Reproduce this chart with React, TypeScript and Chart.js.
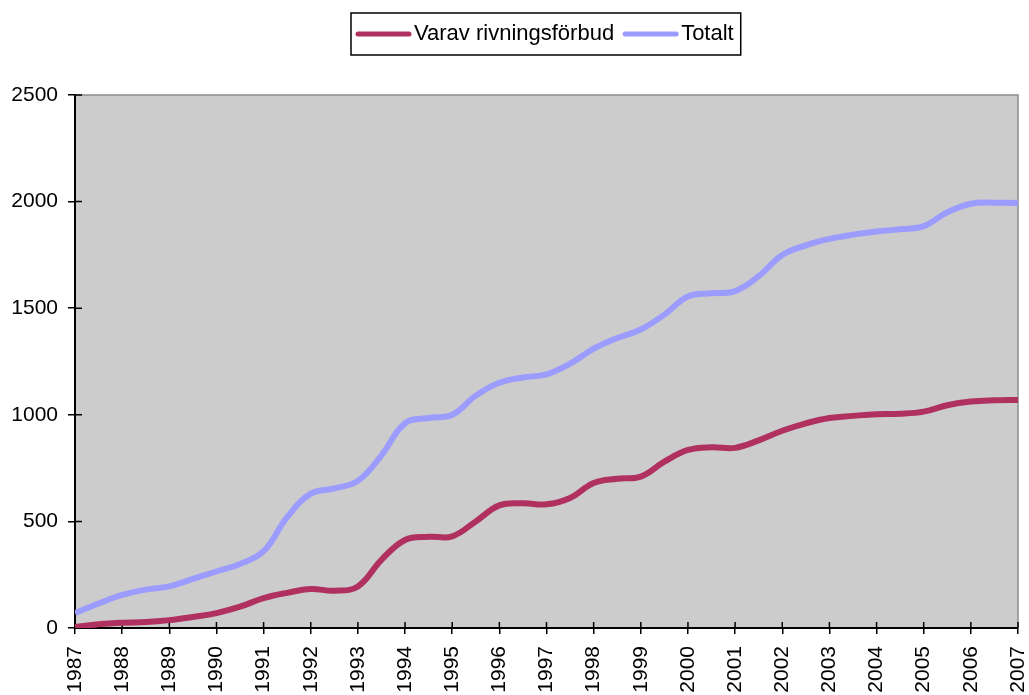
import React, { useEffect, useRef } from 'react';
import { Chart, registerables } from 'chart.js';

Chart.register(...registerables);

const TIMES = [
  1987, 1987.5, 1988, 1988.5, 1989, 1989.5, 1990, 1990.5, 1991, 1991.5,
  1992, 1992.5, 1993, 1993.5, 1994, 1994.5, 1995, 1995.5, 1996, 1996.5,
  1997, 1997.5, 1998, 1998.5, 1999, 1999.5, 2000, 2000.5, 2001, 2001.5,
  2002, 2002.5, 2003, 2003.5, 2004, 2004.5, 2005, 2005.5, 2006, 2006.5, 2007,
];

const YEAR_LABELS = [
  '1987', '1988', '1989', '1990', '1991', '1992', '1993', '1994', '1995', '1996',
  '1997', '1998', '1999', '2000', '2001', '2002', '2003', '2004', '2005', '2006', '2007',
];

const Y_TICKS = [0, 500, 1000, 1500, 2000, 2500];

const SERIES_NAMES = ['Varav rivningsförbud', 'Totalt'];
const SERIES_COLORS = ['#B0305F', '#9C9CFF'];

const RIVNING = [
  5, 18, 25, 28, 37, 52, 70, 100, 140, 165,
  183, 175, 195, 320, 413, 428, 430, 500, 575, 585,
  580, 610, 680, 700, 710, 780, 835, 848, 845, 880,
  925, 960, 985, 995, 1003, 1005, 1015, 1045, 1062, 1068, 1070,
];

const TOTALT = [
  70, 115, 155, 180, 195, 230, 265, 300, 360, 520,
  630, 655, 690, 810, 960, 985, 1000, 1090, 1150, 1175,
  1190, 1240, 1310, 1360, 1400, 1470, 1555, 1570, 1580, 1650,
  1750, 1795, 1825, 1845, 1860, 1870, 1885, 1950, 1990, 1995, 1993,
];

const FONT_FAMILY = "'Liberation Sans', Arial, sans-serif";
const TICK_FONT_SIZE = 21;
const LEGEND_FONT_SIZE = 22;

const plotDeco = {
  id: 'plotDeco',
  beforeDraw(chart: any) {
    const { ctx, chartArea: a } = chart;
    ctx.save();
    ctx.fillStyle = '#CCCCCC';
    ctx.fillRect(a.left, a.top, a.right - a.left, a.bottom - a.top);
    ctx.restore();
  },
  beforeDatasetsDraw(chart: any) {
    const { ctx, chartArea: a, scales } = chart;
    ctx.save();
    ctx.strokeStyle = '#8A8A8A';
    ctx.lineWidth = 1.5;
    ctx.beginPath();
    ctx.moveTo(a.left, a.top);
    ctx.lineTo(a.right, a.top);
    ctx.lineTo(a.right, a.bottom);
    ctx.stroke();
    ctx.strokeStyle = '#000';
    ctx.lineWidth = 1.5;
    ctx.beginPath();
    scales.x.ticks.forEach((t: any) => {
      const x = scales.x.getPixelForValue(t.value);
      ctx.moveTo(x, a.bottom);
      ctx.lineTo(x, a.bottom - 6);
    });
    scales.y.ticks.forEach((t: any) => {
      const y = scales.y.getPixelForValue(t.value);
      ctx.moveTo(a.left, y);
      ctx.lineTo(a.left + 7, y);
    });
    ctx.stroke();
    ctx.restore();
  },
};

const boxedLegend = {
  id: 'boxedLegend',
  afterDraw(chart: any) {
    const { ctx } = chart;
    const ds = chart.data.datasets;
    ctx.save();
    ctx.font = `${LEGEND_FONT_SIZE}px ${FONT_FAMILY}`;
    const lineLen = 55;
    const padL = 5;
    const padR = 7;
    const gapText = 3;
    const gapItem = 9;
    const widths = ds.map((d: any) => ctx.measureText(d.label).width);
    let total = padL + padR;
    ds.forEach((_: any, i: number) => {
      total += lineLen + gapText + widths[i];
      if (i < ds.length - 1) total += gapItem;
    });
    const cx = 546;
    const top = 13;
    const h = 42;
    const left = Math.round(cx - total / 2);
    const cy = top + h / 2;
    ctx.fillStyle = '#fff';
    ctx.fillRect(left, top, total, h);
    ctx.strokeStyle = '#000';
    ctx.lineWidth = 1.5;
    ctx.strokeRect(left, top, total, h);
    let x = left + padL;
    ds.forEach((d: any, i: number) => {
      ctx.strokeStyle = d.borderColor;
      ctx.lineWidth = 5;
      ctx.lineCap = 'round';
      ctx.beginPath();
      ctx.moveTo(x + 2, cy);
      ctx.lineTo(x + lineLen - 2, cy);
      ctx.stroke();
      x += lineLen + gapText;
      ctx.fillStyle = '#000';
      ctx.textBaseline = 'middle';
      ctx.textAlign = 'left';
      ctx.fillText(d.label, x, cy);
      x += widths[i] + gapItem;
    });
    ctx.restore();
  },
};

export default function App() {
  const ref = useRef<HTMLCanvasElement | null>(null);

  useEffect(() => {
    if (!ref.current) return;
    const font = { family: FONT_FAMILY, size: TICK_FONT_SIZE };
    const chart = new Chart(ref.current, {
      type: 'line',
      data: {
        datasets: [
          {
            label: SERIES_NAMES[0],
            data: TIMES.map((t, i) => ({ x: t, y: RIVNING[i] })),
            borderColor: SERIES_COLORS[0],
            backgroundColor: SERIES_COLORS[0],
            borderWidth: 6,
            pointRadius: 0,
            tension: 0.4,
            fill: false,
          },
          {
            label: SERIES_NAMES[1],
            data: TIMES.map((t, i) => ({ x: t, y: TOTALT[i] })),
            borderColor: SERIES_COLORS[1],
            backgroundColor: SERIES_COLORS[1],
            borderWidth: 6,
            pointRadius: 0,
            tension: 0.4,
            fill: false,
          },
        ],
      },
      options: {
        animation: false,
        responsive: false,
        devicePixelRatio: 1,
        layout: { padding: { top: 95, right: 11, left: 0, bottom: 0 } },
        plugins: {
          legend: { display: false },
          tooltip: { enabled: false },
        },
        scales: {
          x: {
            type: 'linear',
            min: 1987,
            max: 2007,
            afterBuildTicks: (s: any) => {
              s.ticks = YEAR_LABELS.map((l) => ({ value: Number(l) }));
            },
            afterFit: (s: any) => {
              s.height = 67;
              s.paddingLeft = 0;
              s.paddingRight = 0;
            },
            ticks: {
              autoSkip: false,
              maxRotation: 90,
              minRotation: 90,
              padding: 12,
              color: '#000',
              font,
              callback: (v: any) => YEAR_LABELS[YEAR_LABELS.indexOf(String(v))],
            },
            grid: {
              drawOnChartArea: false,
              drawTicks: true,
              tickLength: 6,
              color: '#000',
              lineWidth: 1.5,
            },
            border: { color: '#000', width: 2 },
          },
          y: {
            min: 0,
            max: 2500,
            afterBuildTicks: (s: any) => {
              s.ticks = Y_TICKS.map((v) => ({ value: v }));
            },
            afterFit: (s: any) => {
              s.width = 75;
              s.paddingTop = 0;
              s.paddingBottom = 0;
            },
            ticks: {
              padding: 10,
              color: '#000',
              font,
              callback: (v: any) => String(v),
            },
            grid: {
              drawOnChartArea: false,
              drawTicks: true,
              tickLength: 7,
              color: '#000',
              lineWidth: 1.5,
            },
            border: { color: '#000', width: 2 },
          },
        },
      },
      plugins: [plotDeco, boxedLegend],
    } as any);
    return () => chart.destroy();
  }, []);

  return (
    <div style={{ position: 'absolute', left: 0, top: 0, width: 1029, height: 695, background: '#fff' }}>
      <canvas ref={ref} width={1029} height={695} style={{ display: 'block' }} />
    </div>
  );
}
